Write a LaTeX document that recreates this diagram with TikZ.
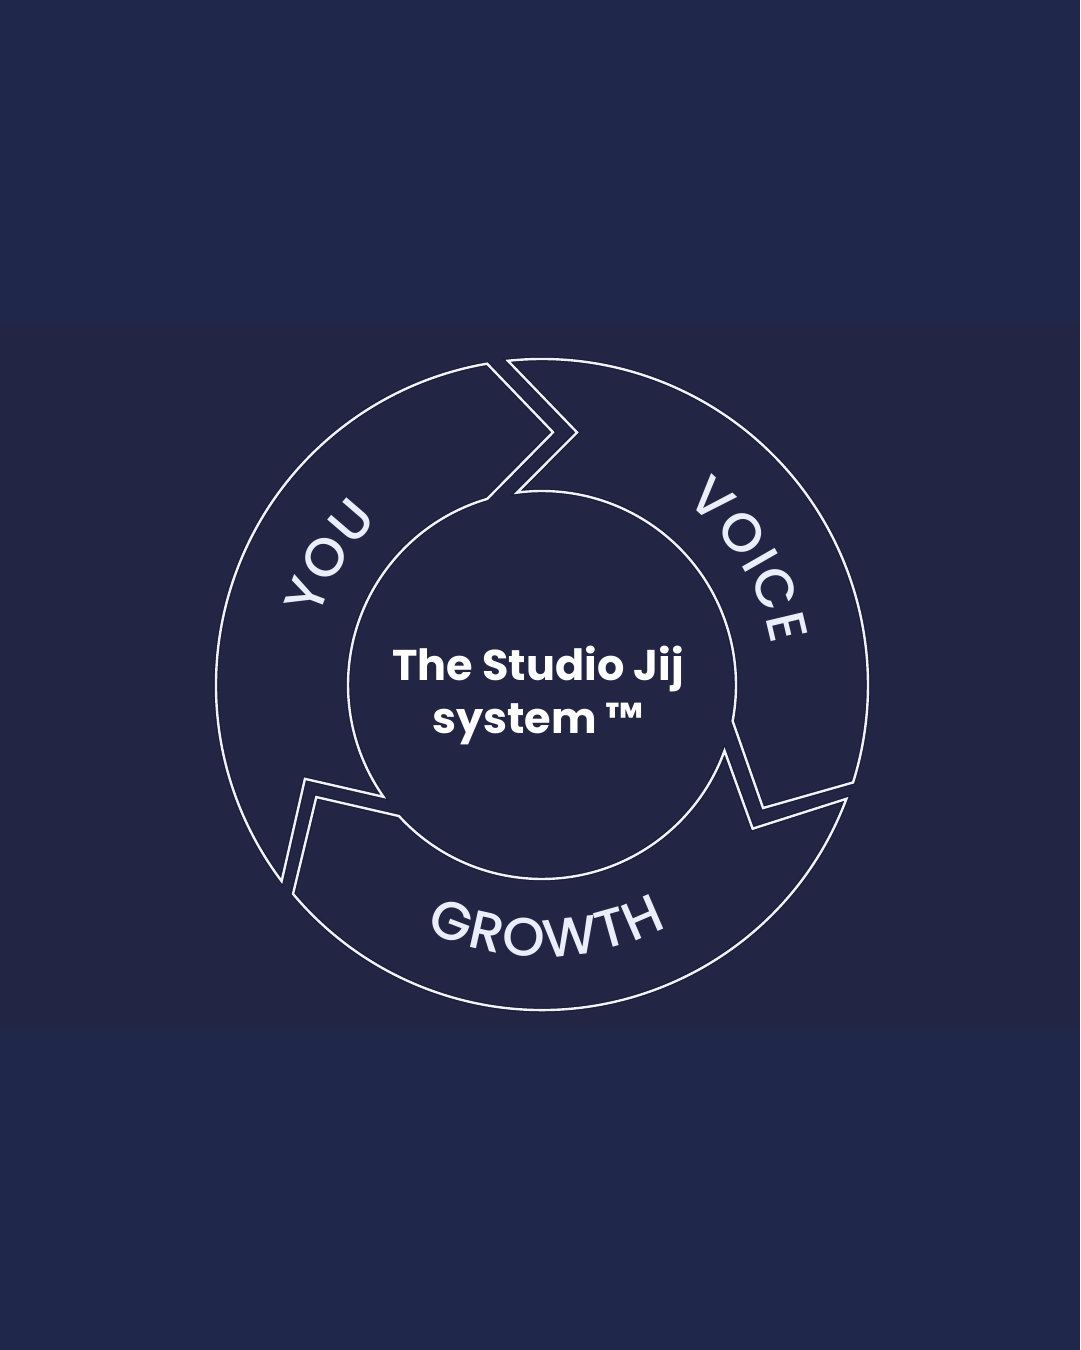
\documentclass[tikz,border=0pt]{standalone}
\usepackage{fontspec}
\setmainfont{Poppins}
\newfontfamily\lblface{Poppins Medium}
\usetikzlibrary{decorations.text}
\definecolor{bgouter}{RGB}{31,40,75}
\definecolor{bgband}{RGB}{34,37,68}
\definecolor{linecol}{RGB}{240,242,248}
\definecolor{halocol}{RGB}{18,20,40}
\definecolor{labelcol}{RGB}{234,238,248}
\newcommand{\lblfont}{\lblface\fontsize{54}{60}\selectfont}
\tikzset{
  segline/.style={draw=linecol, line width=2.4pt, line join=miter},
  seghalo/.style={draw=halocol, line width=5pt, line join=miter, opacity=0.45},
  arclabel/.style={font=\lblfont, decorate, decoration={text effects along path, text={#1}, text align=center,
     text effects/.cd, text along path, character widths={font=\lblfont, inner xsep=1pt},
     characters={inner xsep=1pt, inner ysep=0pt, font=\lblfont, text=labelcol}}},
  titlefont/.style={font=\fontsize{43}{53}\selectfont\bfseries, text=white, align=center}
}
\begin{document}
\begin{tikzpicture}[x=1pt,y=1pt]
\useasboundingbox (0,0) rectangle (1080,1350);
\fill[bgouter] (0,0) rectangle (1080,1350);
\fill[bgband] (0,321) rectangle (1080,1028);
\begin{scope}[shift={(542,665)}]
  \foreach \st in {seghalo,segline}{
  % YOU segment
  \path[\st] (217:326) arc[start angle=217,end angle=99.7,radius=326]
     -- (87.5:253) -- (106.4:194)
     arc[start angle=106.4,end angle=215.2,radius=194]
     -- (201.6:255) -- cycle;
  % VOICE segment
  \path[\st] (96:326) arc[start angle=96,end angle=-17.4,radius=326]
     -- (-29.1:253) -- (-10.7:194)
     arc[start angle=-10.7,end angle=97.4,radius=194]
     -- (82.1:255) -- cycle;
  % GROWTH segment
  \path[\st] (-20.5:325) arc[start angle=-20.5,end angle=-140,radius=325]
     -- (-153.6:252) -- (-137.5:194)
     arc[start angle=-137.5,end angle=-19.8,radius=194]
     -- (-34.3:255) -- cycle;
  }
  % labels
  \path[arclabel=YOU] (189:233) arc[start angle=189,end angle=109,radius=233];
  \path[arclabel=VOICE] (71:233) arc[start angle=71,end angle=-9,radius=233];
  \path[arclabel=GROWTH] (-134:272) arc[start angle=-134,end angle=-44,radius=272];
  \node[titlefont] (title) at (-4,-10) {The Studio Jij\\system ™};
\end{scope}
\end{tikzpicture}
\end{document}
